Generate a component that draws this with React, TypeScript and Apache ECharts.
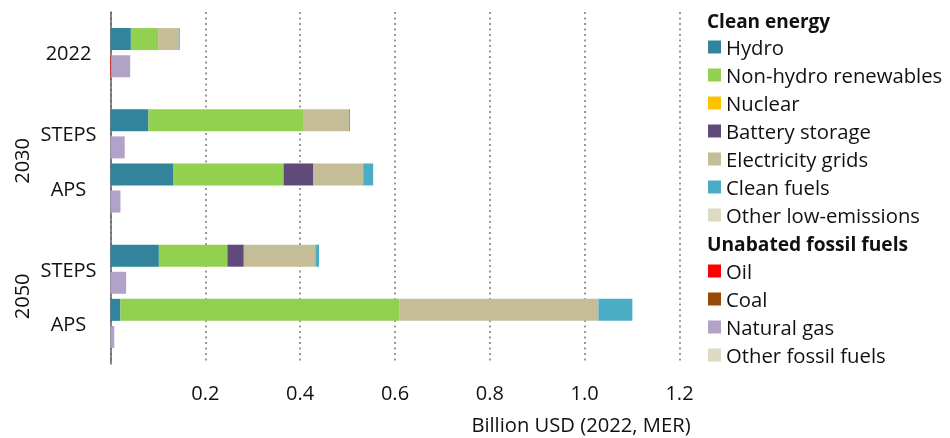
import React, { useEffect, useRef } from 'react';
import * as echarts from 'echarts';

// ---- Data ----
const scenarioLabels = ['2022', 'STEPS', 'APS', 'STEPS', 'APS'];
const yearGroupLabels = ['2030', '2050'];
const yearGroupMembers = [[1, 2], [3, 4]];

const cleanNames = ['Hydro', 'Non-hydro renewables', 'Nuclear', 'Battery storage', 'Electricity grids', 'Clean fuels', 'Other low-emissions'];
const fossilNames = ['Oil', 'Coal', 'Natural gas', 'Other fossil fuels'];

// values per scenario: 2022, 2030 STEPS, 2030 APS, 2050 STEPS, 2050 APS (billion USD)
const hydro = [0.043, 0.08, 0.133, 0.102, 0.021];
const nonHydro = [0.0575, 0.326, 0.232, 0.1446, 0.589];
const nuclear = [0, 0, 0, 0, 0];
const battery = [0, 0, 0.063, 0.0345, 0];
const grids = [0.0436, 0.097, 0.105, 0.151, 0.419];
const cleanFuels = [0.002, 0.002, 0.021, 0.0077, 0.0716];
const otherLow = [0, 0, 0, 0, 0];

const oil = [0.0015, 0, 0, 0, 0];
const coal = [0, 0, 0, 0, 0];
const gas = [0.04, 0.03, 0.021, 0.033, 0.008];
const otherFossil = [0, 0, 0, 0, 0];

const xMax = 1.2;
const xInterval = 0.2;
const xTitle = 'Billion USD (2022, MER)';
const cleanHeader = 'Clean energy';
const fossilHeader = 'Unabated fossil fuels';

// ---- Styles / layout ----
const colors: Record<string, string> = {
  'Hydro': '#31849B',
  'Non-hydro renewables': '#92D050',
  'Nuclear': '#FFC000',
  'Battery storage': '#604A7B',
  'Electricity grids': '#C4BD97',
  'Clean fuels': '#4BACC6',
  'Other low-emissions': '#DDD9C3',
  'Oil': '#FF0000',
  'Coal': '#984807',
  'Natural gas': '#B3A2C7',
  'Other fossil fuels': '#DDD9C3',
};

const FONT = 'Open Sans';
const TEXT = '#111';
const SLOT_COUNT = 14;
const cleanSlots = [1, 4, 6, 9, 11];

function toSlots(values: number[], offset: number) {
  const arr: (number | string)[] = Array(SLOT_COUNT).fill('-');
  values.forEach((v, i) => { arr[cleanSlots[i] + offset] = v; });
  return arr;
}

export default function App() {
  const ref = useRef<HTMLDivElement>(null);
  useEffect(() => {
    if (!ref.current) return;
    const chart = echarts.init(ref.current, null, { renderer: 'svg' });

    const cleanData = [hydro, nonHydro, nuclear, battery, grids, cleanFuels, otherLow];
    const fossilData = [oil, coal, gas, otherFossil];

    const series: any[] = [];
    cleanNames.forEach((n, i) => series.push({
      name: n, type: 'bar', stack: 'total', barWidth: 22, yAxisIndex: 0,
      itemStyle: { color: colors[n] }, data: toSlots(cleanData[i], 0),
    }));
    fossilNames.forEach((n, i) => series.push({
      name: n, type: 'bar', stack: 'total', barWidth: 22, yAxisIndex: 0,
      itemStyle: { color: colors[n] }, data: toSlots(fossilData[i], 1),
    }));

    const HALF = SLOT_COUNT * 2 - 1;
    const scenLabelData = Array(HALF).fill('');
    cleanSlots.forEach((s, i) => { scenLabelData[2 * s + 1] = scenarioLabels[i]; });
    const yearLabelData = Array(HALF).fill('');
    yearGroupMembers.forEach((m, i) => {
      const mid = cleanSlots[m[0]] + cleanSlots[m[m.length - 1]] + 1;
      yearLabelData[mid] = yearGroupLabels[i];
    });

    const labelAxisBase = {
      type: 'category', position: 'left', inverse: true, boundaryGap: false,
      axisLine: { show: false }, axisTick: { show: false }, splitLine: { show: false },
    };

    const legendBase = {
      orient: 'vertical', left: 708, itemWidth: 13, itemHeight: 13, itemGap: 8,
      padding: 0, icon: 'rect', selectedMode: false,
      textStyle: { fontFamily: FONT, fontSize: 20.3, lineHeight: 20, color: TEXT },
    };

    chart.setOption({
      animation: false,
      textStyle: { fontFamily: FONT },
      grid: { left: 110.5, top: 12, width: 569, height: 352, containLabel: false },
      xAxis: {
        type: 'value', min: 0, max: xMax, interval: xInterval,
        axisLine: { show: false }, axisTick: { show: false },
        axisLabel: {
          showMinLabel: false, margin: 18,
          fontFamily: FONT, fontSize: 20, color: TEXT,
          formatter: (v: number) => v.toFixed(1),
        },
        splitLine: { show: true, lineStyle: { type: [2, 3.5], width: 2, color: '#9a9a9a' } },
      },
      yAxis: [
        {
          type: 'category', inverse: true, boundaryGap: false, position: 'left',
          data: Array(SLOT_COUNT).fill(''),
          axisLine: { show: true, lineStyle: { color: '#5f5f5f', width: 1.5 } },
          axisTick: { show: false }, axisLabel: { show: false }, splitLine: { show: false },
        },
        {
          ...labelAxisBase, data: scenLabelData,
          axisLabel: { interval: 0, align: 'center', margin: 42, fontFamily: FONT, fontSize: 20, color: TEXT },
        },
        {
          ...labelAxisBase, data: yearLabelData,
          axisLabel: { interval: 0, rotate: 90, margin: 79, fontFamily: FONT, fontSize: 20, color: TEXT },
        },
      ],
      legend: [
        { ...legendBase, data: cleanNames, top: 37 },
        { ...legendBase, data: fossilNames, top: 261 },
      ],
      graphic: [
        { type: 'text', x: 707, y: 21, style: { text: cleanHeader, font: `bold 19px "${FONT}"`, fill: TEXT, textVerticalAlign: 'middle' } },
        { type: 'text', x: 707, y: 243, style: { text: fossilHeader, font: `bold 19.2px "${FONT}"`, fill: TEXT, textVerticalAlign: 'middle' } },
        { type: 'text', x: 581, y: 424, style: { text: xTitle, font: `20.2px "${FONT}"`, fill: TEXT, textAlign: 'center', textVerticalAlign: 'middle' } },
      ],
      series,
    });
    return () => chart.dispose();
  }, []);
  return <div ref={ref} style={{ position: 'fixed', left: 0, top: 0, width: 950, height: 438 }} />;
}
